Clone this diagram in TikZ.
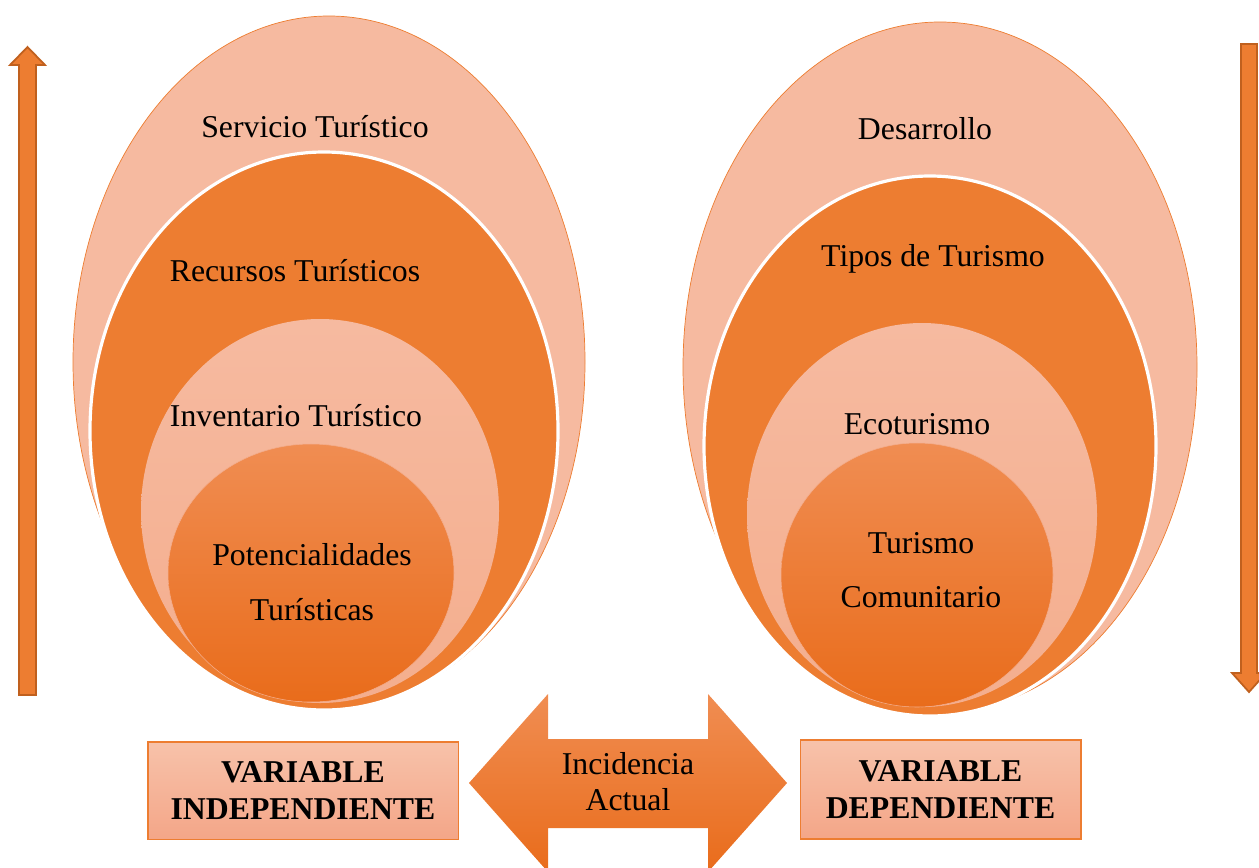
\documentclass[tikz,border=0pt]{standalone}
\usepackage{fontspec}
\setmainfont{Liberation Serif}
\definecolor{lsal}{HTML}{F6BAA0}
\definecolor{lsal2}{HTML}{F4AE8E}
\definecolor{org}{HTML}{ED7D31}
\definecolor{inTop}{HTML}{F08D52}
\definecolor{inBot}{HTML}{E96C1B}
\definecolor{boxTop}{HTML}{F7C2AA}
\definecolor{boxBot}{HTML}{F4A688}
\definecolor{arrDark}{HTML}{C0601E}
\begin{document}
\begin{tikzpicture}[x=0.5667pt,y=-0.5667pt,
  outerell/.style={fill=lsal,draw=org,line width=0.4pt},
  midell/.style={fill=org,draw=white,line width=1.8pt},
  lightell/.style={top color=lsal,bottom color=lsal2,draw=none},
  innerell/.style={top color=inTop,bottom color=inBot,draw=lsal2,line width=0.3pt},
  lbl/.style={font=\fontsize{18}{31}\selectfont,align=center,inner sep=0pt},
  varbox/.style={draw=org,line width=0.6pt,top color=boxTop,bottom color=boxBot,
     font=\fontsize{18}{21}\selectfont\bfseries,align=center,inner sep=0pt},
  vertarrow/.style={fill=org,draw=arrDark,line width=1pt,line join=miter},
  dblarrow/.style={top color=inTop,bottom color=inBot,draw=none}
]
\useasboundingbox (0,0) rectangle (1259,867);
\begin{scope}
\clip (0,0) rectangle (1259,867);
% side arrows
\draw[vertarrow] (19,695) -- (19,65) -- (10,65) -- (27.5,47) -- (45,65) -- (36,65) -- (36,695) -- cycle;
\draw[vertarrow] (1241,44) -- (1257,44) -- (1257,673) -- (1266,673) -- (1249,692) -- (1232,673) -- (1241,673) -- cycle;
% left group
\draw[outerell] (329,362) ellipse (256 and 346);
\draw[midell] (324,431) ellipse (234 and 279);
\shade[lightell] (320,511) ellipse (179 and 192);
\shade[innerell] (311,573) ellipse (143 and 129);
% right group
\draw[outerell] (940,367) ellipse (257 and 345);
\draw[midell] (930,446) ellipse (226 and 270);
\shade[lightell] (922,515) ellipse (175 and 192);
\shade[innerell] (917,575) ellipse (136 and 132);
% double arrow
\shade[dblarrow] (469,783) -- (548,694) -- (548,739) -- (708,739) -- (708,694) -- (787,783) -- (708,872) -- (708,828) -- (548,828) -- (548,872) -- cycle;
\end{scope}
% labels left
\node[lbl] (servicio) at (315,127) {Servicio Turístico};
\node[lbl] (recursos) at (295,271) {Recursos Turísticos};
\node[lbl] (inventario) at (296,416) {Inventario Turístico};
\node[lbl] (potenc) at (312,582) {Potencialidades\\Turísticas};
% labels right
\node[lbl] (desarrollo) at (925,129) {Desarrollo};
\node[lbl] (tipos) at (933,259) {Tipos de Turismo};
\node[lbl] (eco) at (917,424) {Ecoturismo};
\node[lbl] (comunit) at (921,570) {Turismo\\Comunitario};
% boxes
\node[varbox,minimum width=175.7pt,minimum height=55pt] (vi) at (303,790.5) {VARIABLE\\INDEPENDIENTE};
\node[varbox,minimum width=159.2pt,minimum height=56.1pt] (vd) at (940.5,789.5) {VARIABLE\\DEPENDIENTE};
\node[lbl,font=\fontsize{18}{20.5}\selectfont] (incid) at (628,782) {Incidencia\\Actual};
\end{tikzpicture}
\end{document}
